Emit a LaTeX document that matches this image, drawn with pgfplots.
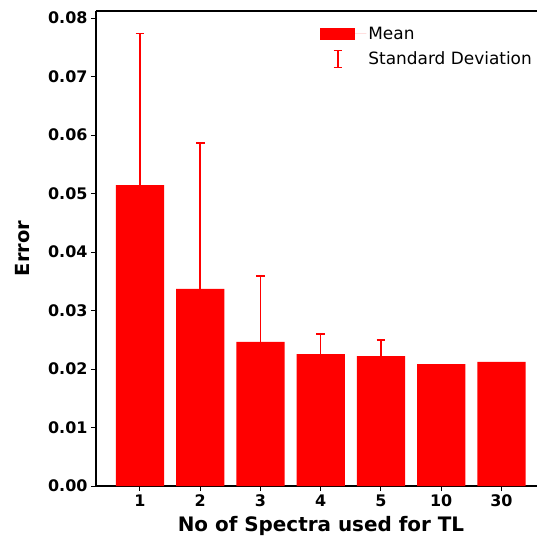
\documentclass[border=0pt]{standalone}
\usepackage{fontspec}
\setmainfont{DejaVu Sans}
\usepackage{pgfplots}
\pgfplotsset{compat=1.18}

\begin{document}
\begin{tikzpicture}
% page frame: the axis box runs slightly past the right edge
\useasboundingbox (-96bp,-51bp) rectangle (441bp,486bp);
\begin{axis}[
  name=ax,
  at={(0,0)}, anchor=south west,
  scale only axis,
  width=450bp, height=475bp,
  xmin=-0.73, xmax=6.74,
  ymin=0, ymax=0.0812,
  axis lines*=left,
  axis line style={line width=1.1bp, black},
  tick align=outside,
  major tick length=5bp,
  tick style={line width=1.0bp, black},
  xtick={0,1,2,3,4,5,6},
  xticklabels={1,2,3,4,5,10,30},
  ytick={0,0.01,0.02,0.03,0.04,0.05,0.06,0.07,0.08},
  yticklabel style={/pgf/number format/.cd, fixed, fixed zerofill, precision=2, assume math mode=true},
  xticklabel style={/pgf/number format/assume math mode=true},
  ticklabel style={font=\bfseries\fontsize{16}{19}\selectfont},
  scaled y ticks=false,
  xlabel={No of Spectra used for TL},
  ylabel={Error},
  xlabel shift=3bp,
  ylabel shift=12bp,
  xlabel style={font=\bfseries\fontsize{20}{24}\selectfont},
  ylabel style={font=\bfseries\fontsize{19.5}{23}\selectfont},
  legend style={draw=none, fill=none, at={(rel axis cs:0.980,0.975)}, anchor=north east,
    font=\fontsize{17}{20}\selectfont, row sep=7bp,
    nodes={inner sep=2bp}},
  legend cell align=left,
]
% mean error for each number of spectra
\addplot[ybar, bar width=0.8, fill=red, draw=none,
  legend image code/.code={\fill[red] (0bp,-6bp) rectangle (35bp,6bp);\path (0bp,0bp) -- (46bp,0bp);}]
  coordinates {(0,0.05145) (1,0.03368) (2,0.02462) (3,0.02256) (4,0.02222) (5,0.02085) (6,0.0212)};
\addlegendentry{Mean}
% standard deviation above each mean
\addplot[draw=none, mark=none, red,
  legend image code/.code={
    \draw[draw=red, line width=1.5bp] (17.5bp,-8.5bp) -- (17.5bp,8.5bp);
    \draw[draw=red, line width=1.3bp] (13.2bp,-8.5bp) -- (21.8bp,-8.5bp);
    \draw[draw=red, line width=1.3bp] (13.2bp,8.5bp) -- (21.8bp,8.5bp);
    \path (0bp,0bp) -- (46bp,0bp);},
  error bars/.cd, y dir=plus, y explicit,
  error bar style={draw=red, line width=1.5bp},
  error mark options={rotate=90, mark size=4.3bp, line width=1.3bp, draw=red},
  ]
  coordinates {
    (0,0.05145) +- (0,0.02595)
    (1,0.03368) +- (0,0.02495)
    (2,0.02462) +- (0,0.01128)
    (3,0.02256) +- (0,0.00342)
    (4,0.02222) +- (0,0.00274)
  };
\addlegendentry{Standard Deviation}
% top spine
\draw[line width=1.1bp, black] (rel axis cs:0,1) -- (rel axis cs:1,1);
\end{axis}
\end{tikzpicture}
\end{document}
